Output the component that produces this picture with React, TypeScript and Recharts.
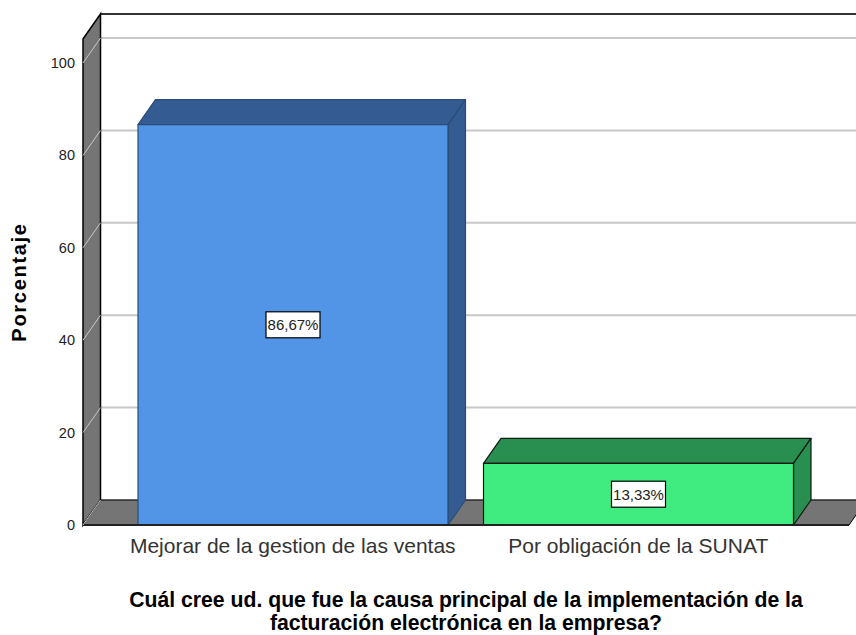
import React from "react";
import { BarChart, Bar, XAxis, YAxis, CartesianGrid, LabelList, Label, usePlotArea } from "recharts";

const categories = ["Mejorar de la gestion de las ventas", "Por obligación de la SUNAT"];
const percentages = [86.67, 13.33];
const percentLabels = ["86,67%", "13,33%"];
const yTicks = [0, 20, 40, 60, 80, 100];
const titleLines = [
  "Cuál cree ud. que fue la causa principal de la implementación de la",
  "facturación electrónica en la empresa?",
];

const frontColors = ["#5294e6", "#40ec7f"];
const darkColors = ["#345c92", "#288f50"];

const chartData = categories.map((name, i) => ({ name, value: percentages[i], label: percentLabels[i] }));

// depth of the fake 3D box
const DX = 17.5;
const DY = 25;
const AXIS_WIDTH = 83;
const FONT = '"Liberation Sans", Arial, sans-serif';

function Walls() {
  const plot = usePlotArea();
  if (!plot) return null;
  const left = plot.x;
  const top = plot.y;
  const bottom = plot.y + plot.height;
  const right = plot.x + plot.width;
  return (
    <g>
      <polygon
        points={`${left},${top} ${left + DX},${top - DY} ${left + DX},${bottom - DY} ${left},${bottom}`}
        fill="#757575"
        stroke="#000"
        strokeWidth={1.5}
      />
      <polygon
        points={`${left},${bottom} ${left + DX},${bottom - DY} ${right + DX},${bottom - DY} ${right},${bottom}`}
        fill="#757575"
        stroke="#000"
        strokeWidth={1}
      />
      <line x1={left + DX} y1={top - DY} x2={right + DX} y2={top - DY} stroke="#000" strokeWidth={1.5} />
    </g>
  );
}

function gridLine(props: any) {
  const { x1, x2, y1 } = props;
  return (
    <line key={props.key ?? y1} x1={x1 + DX} y1={y1 - DY} x2={x2 + DX} y2={y1 - DY} stroke="#c8c8c8" strokeWidth={2} />
  );
}

// tick label plus the grid line running across the left wall
function WallTick(props: any) {
  const { x, y, payload } = props;
  return (
    <g>
      <line x1={AXIS_WIDTH} y1={y} x2={AXIS_WIDTH + DX} y2={y - DY} stroke="#c8c8c8" strokeWidth={1} />
      <text x={x} y={y + 5} textAnchor="end" fontFamily={FONT} fontSize={14.5} fill="#222">
        {payload.value}
      </text>
    </g>
  );
}

function Box3D(props: any) {
  const { x, y, width, height, index } = props;
  const outline = index === 0 ? "#2b4b78" : "#0c1a10";
  return (
    <g stroke={outline} strokeWidth={1.2} strokeLinejoin="round">
      <polygon
        points={`${x},${y} ${x + DX},${y - DY} ${x + width + DX},${y - DY} ${x + width},${y}`}
        fill={darkColors[index]}
      />
      <polygon
        points={`${x + width},${y} ${x + width + DX},${y - DY} ${x + width + DX},${y + height - DY} ${x + width},${y + height}`}
        fill={darkColors[index]}
      />
      <rect x={x} y={y} width={width} height={height} fill={frontColors[index]} />
    </g>
  );
}

function ValueTag(props: any) {
  const { x, y, width, height, index } = props;
  const cx = x + width / 2;
  const cy = y + height / 2;
  return (
    <g>
      <rect x={cx - 27} y={cy - 13} width={54} height={26} fill="#fff" stroke="#000" strokeWidth={1.2} />
      <text x={cx} y={cy + 5.5} textAnchor="middle" fontFamily={FONT} fontSize={15} fill="#222">
        {percentLabels[index]}
      </text>
    </g>
  );
}

function AxisTitle() {
  return (
    <text textAnchor="middle" fontFamily={FONT} fontSize={21.2} fontWeight="bold" fill="#000">
      {titleLines.map((line, i) => (
        <tspan key={line} x={466} y={607 + i * 23}>
          {line}
        </tspan>
      ))}
    </text>
  );
}

export default function App() {
  return (
    <div style={{ position: "absolute", left: 0, top: 0, width: 856, height: 635, overflow: "hidden", background: "#fff" }}>
      <BarChart
        width={856}
        height={635}
        data={chartData}
        margin={{ top: 39, right: 7, bottom: 0, left: 0 }}
        barSize={310}
      >
        <Walls />
        <CartesianGrid vertical={false} horizontal={gridLine} />
        <XAxis
          dataKey="name"
          interval={0}
          padding={{ left: 37, right: 38 }}
          axisLine={{ stroke: "#222", strokeWidth: 2 }}
          tickLine={false}
          height={110}
          tickMargin={7}
          tick={{ fontFamily: FONT, fontSize: 21, fill: "#333" }}
        >
          <Label content={AxisTitle} />
        </XAxis>
        <YAxis
          width={AXIS_WIDTH}
          domain={[0, 105.2]}
          ticks={yTicks}
          axisLine={false}
          tickLine={false}
          tickMargin={2}
          tick={WallTick}
          allowDataOverflow
        >
          <Label
            value="Porcentaje"
            angle={-90}
            position="insideLeft"
            offset={19}
            style={{ fontFamily: FONT, fontSize: 20, fontWeight: "bold", letterSpacing: 1.7, fill: "#000", textAnchor: "middle" }}
          />
        </YAxis>
        <Bar dataKey="value" isAnimationActive={false} shape={Box3D}>
          <LabelList dataKey="label" content={ValueTag} />
        </Bar>
      </BarChart>
    </div>
  );
}
